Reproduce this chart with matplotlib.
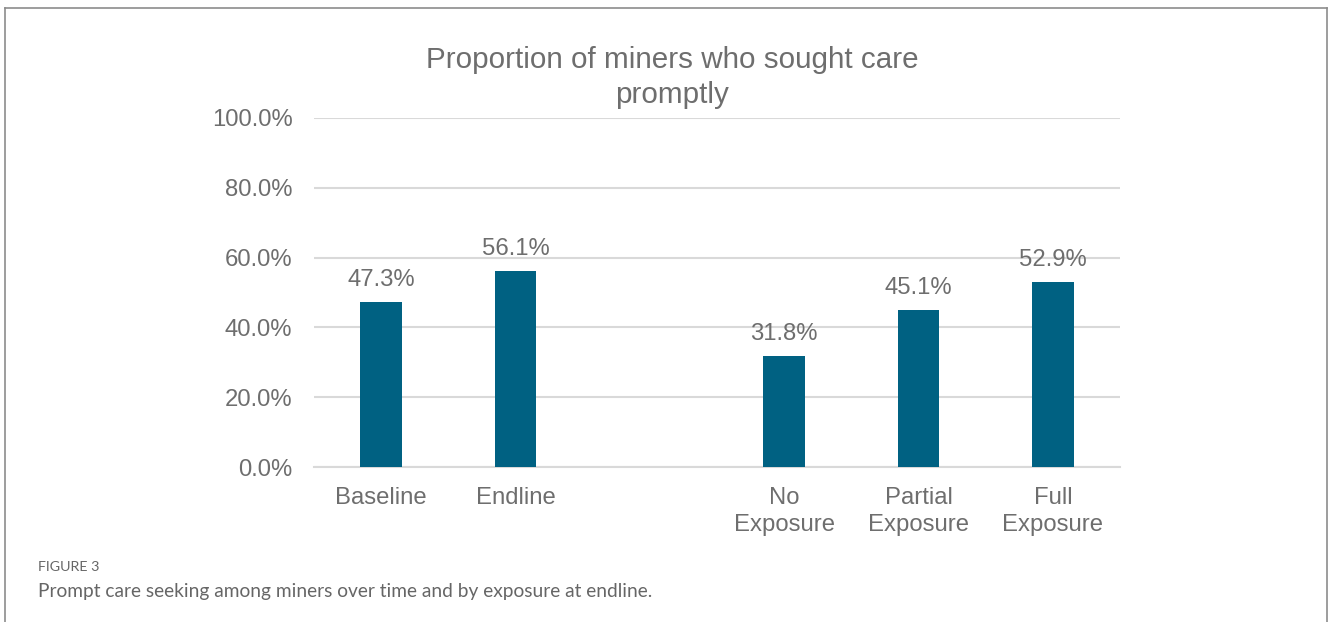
import matplotlib
matplotlib.use("Agg")
import matplotlib.pyplot as plt
from matplotlib.lines import Line2D
import numpy as np

categories = ["Baseline", "Endline", "", "No\nExposure", "Partial\nExposure", "Full\nExposure"]
values = [47.3, 56.1, np.nan, 31.8, 45.1, 52.9]
yticks = [0, 20, 40, 60, 80, 100]
title = "Proportion of miners who sought care\npromptly"
fig_label = "FIGURE 3"
caption = "Prompt care seeking among miners over time and by exposure at endline."

BAR = "#006182"
TXT = "#6e6e6e"
GRID = "#d9d9d9"
FS = 17.2

W, H = 1328, 622
fig = plt.figure(figsize=(W / 100, H / 100), dpi=100)
ax = fig.add_axes([314 / W, 1 - 467 / H, (1120 - 314) / W, (467 - 118) / H])

x = np.arange(len(categories))
mask = ~np.isnan(values)
vals = np.array(values)
ax.bar(x[mask], vals[mask], width=0.31, color=BAR, zorder=3)

for xi, v in zip(x[mask], vals[mask]):
    ax.annotate(f"{v:.1f}%", (xi, v), xytext=(0, 11.5), textcoords="offset points",
                ha="center", va="baseline", fontsize=FS, color=TXT,
                family="Liberation Sans")

ax.set_xlim(-0.5, len(categories) - 0.5)
ax.set_ylim(0, 100)
ax.set_yticks(yticks)
ax.set_yticklabels([f"{t:.1f}%" for t in yticks], family="Liberation Sans",
                   fontsize=FS, color=TXT)
ax.set_xticks(x)
ax.set_xticklabels(categories, family="Liberation Sans", fontsize=FS, color=TXT,
                   linespacing=1.31)
ax.tick_params(axis="both", length=0)
ax.tick_params(axis="y", pad=15.5)
ax.tick_params(axis="x", pad=14.3)
ax.yaxis.grid(True, color=GRID, linewidth=1.5, zorder=0)
for s in ["left", "right", "top"]:
    ax.spines[s].set_visible(False)
ax.spines["bottom"].set_color(GRID)
ax.spines["bottom"].set_linewidth(1.5)

fig.text(672 / W, 1 - 77.5 / H, title, ha="center", va="center", fontsize=21.3,
         color=TXT, family="Liberation Sans", linespacing=1.31)

fig.text(38 / W, 1 - 567 / H, fig_label, ha="left", va="center", fontsize=10.3,
         color="#666666", family="Lato")
fig.text(38 / W, 1 - 591 / H, caption, ha="left", va="center", fontsize=13.8,
         color="#666666", family="Lato")

# panel border (left, top, right)
bc = "#8c8c8c"
fig.add_artist(Line2D([4.5 / W, 4.5 / W], [0, 1 - 8 / H], transform=fig.transFigure, color=bc, lw=1.2))
fig.add_artist(Line2D([4.5 / W, 1327 / W], [1 - 8 / H, 1 - 8 / H], transform=fig.transFigure, color=bc, lw=1.2))
fig.add_artist(Line2D([1327 / W, 1327 / W], [0, 1 - 8 / H], transform=fig.transFigure, color=bc, lw=1.2))

fig.savefig("out.png", dpi=100)
